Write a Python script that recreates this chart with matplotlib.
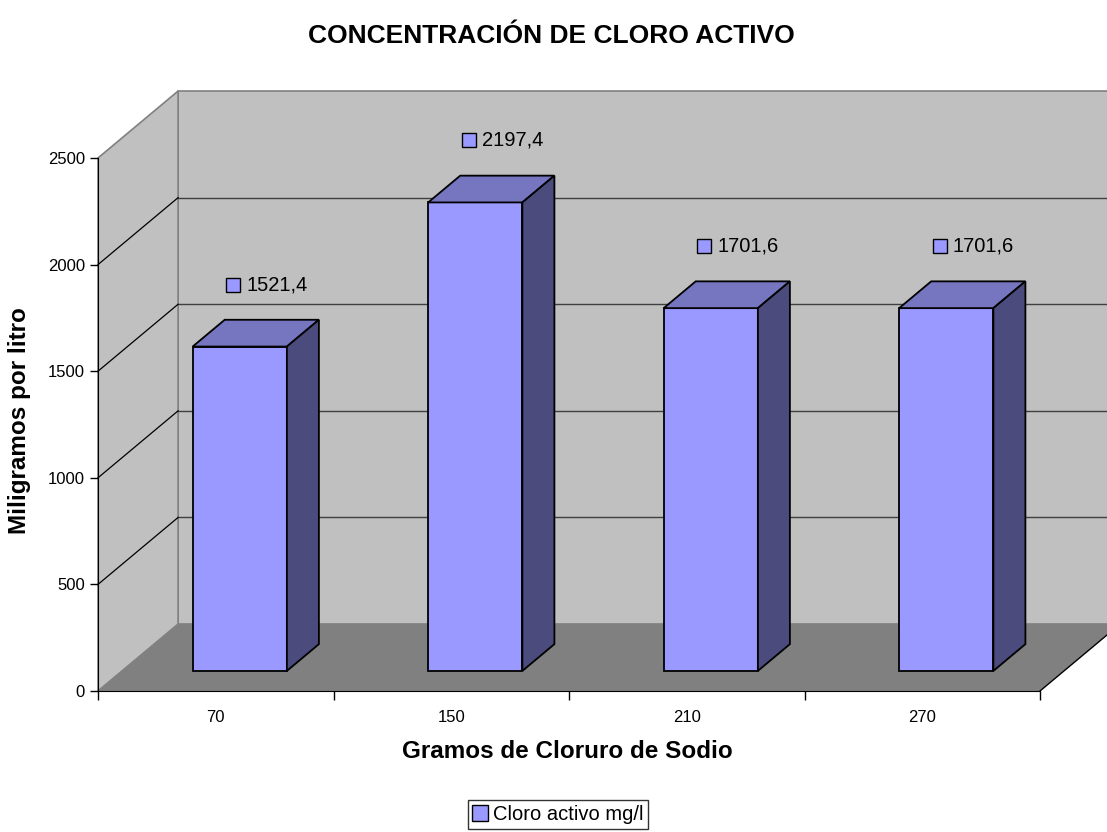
import matplotlib
matplotlib.use('Agg')
from matplotlib import pyplot as plt
from matplotlib.patches import Polygon
from matplotlib.lines import Line2D

plt.rcParams['font.family'] = ['Liberation Sans', 'DejaVu Sans']

categorias = ['70', '150', '210', '270']
cloro = [1521.4, 2197.4, 1701.6, 1701.6]
etiquetas = ['1521,4', '2197,4', '1701,6', '1701,6']
yticks = [0, 500, 1000, 1500, 2000, 2500]
serie = 'Cloro activo mg/l'

# 3D depth offsets in data units
DX = 0.34
DY = 314.0
F0, F1 = 0.3, 0.7   # bar depth range (fraction of full depth)
BW = 0.4            # bar width in category units
YMAX = 2500

C_FRONT = '#9999FF'
C_TOP = '#7575C0'
C_SIDE = '#4B4B7E'


def poly(ax, pts, fc, ec, lw, z):
    ax.add_patch(Polygon(pts, closed=True, facecolor=fc, edgecolor=ec,
                         linewidth=lw, zorder=z, clip_on=False))


fig = plt.figure(figsize=(11.07, 8.32), dpi=100)
ax = fig.add_axes([98 / 1107, 141 / 832, 942 / 1107, 533 / 832])
ax.set_xlim(0, len(categorias))
ax.set_ylim(0, YMAX)
ax.patch.set_visible(False)

n = len(categorias)
# walls and floor
poly(ax, [(DX, DY), (n + DX, DY), (n + DX, DY + YMAX), (DX, DY + YMAX)],
     '#C0C0C0', '#808080', 1.2, 1)
poly(ax, [(0, 0), (DX, DY), (DX, DY + YMAX), (0, YMAX)],
     '#C0C0C0', '#808080', 1.2, 1)
poly(ax, [(0, 0), (n, 0), (n + DX, DY), (DX, DY)],
     '#808080', 'none', 0, 1)
ax.plot([n, n + DX], [0, DY], color='black', lw=1, zorder=2, clip_on=False)

# gridlines
for t in yticks[1:-1]:
    ax.plot([DX, n + DX], [t + DY, t + DY], color='#404040', lw=1,
            zorder=2, clip_on=False)
    ax.plot([0, DX], [t, t + DY], color='black', lw=0.9, zorder=2,
            clip_on=False)

# bars
for i, v in enumerate(cloro):
    xl = i + 0.5 - BW / 2
    xr = i + 0.5 + BW / 2
    b0 = F0 * DY
    b1 = F1 * DY
    poly(ax, [(xl + F0 * DX, b0), (xr + F0 * DX, b0),
              (xr + F0 * DX, b0 + v), (xl + F0 * DX, b0 + v)],
         C_FRONT, 'black', 1.3, 5)
    poly(ax, [(xl + F0 * DX, b0 + v), (xr + F0 * DX, b0 + v),
              (xr + F1 * DX, b1 + v), (xl + F1 * DX, b1 + v)],
         C_TOP, 'black', 1.3, 5)
    poly(ax, [(xr + F0 * DX, b0), (xr + F1 * DX, b1),
              (xr + F1 * DX, b1 + v), (xr + F0 * DX, b0 + v)],
         C_SIDE, 'black', 1.3, 5)
    ly = v + 385
    ax.plot([i + 0.5 + 0.074], [ly], marker='s', markersize=9.5,
            markerfacecolor=C_FRONT, markeredgecolor='black',
            markeredgewidth=1, zorder=6, clip_on=False)
    ax.text(i + 0.5 + 0.129, ly, etiquetas[i], fontsize=14.5, va='center',
            ha='left', zorder=6)

# axes
for s in ['top', 'right']:
    ax.spines[s].set_visible(False)
ax.spines['left'].set_zorder(3)
ax.spines['bottom'].set_zorder(3)
ax.set_yticks(yticks)
ax.set_yticklabels([str(t) for t in yticks])
ax.set_xticks(range(n + 1))
ax.set_xticklabels([''] * (n + 1))
ax.set_xticks([i + 0.5 for i in range(n)], minor=True)
ax.set_xticklabels(categorias, minor=True)
ax.tick_params(axis='y', direction='out', length=6, width=1, pad=3.5,
               labelsize=12)
ax.tick_params(axis='x', which='major', direction='out', length=6.5,
               width=1)
ax.tick_params(axis='x', which='minor', length=0, pad=14, labelsize=12)

fig.text(567 / 1107, 1 - 752 / 832, 'Gramos de Cloruro de Sodio',
         fontsize=17.5, fontweight='bold', ha='center', va='center')
fig.text(20 / 1107, 1 - 421 / 832, 'Miligramos por litro', fontsize=17.5,
         fontweight='bold', ha='center', va='center', rotation=90)
fig.text(551 / 1107, 1 - 36 / 832, 'CONCENTRACIÓN DE CLORO ACTIVO',
         fontsize=19, fontweight='bold', ha='center', va='center')

handle = Line2D([], [], linestyle='none', marker='s', markersize=11,
                markerfacecolor=C_FRONT, markeredgecolor='black')
leg = fig.legend([handle], [serie], loc='upper center',
                 bbox_to_anchor=(558 / 1107, 1 - 800 / 832), fontsize=14.5,
                 frameon=True, fancybox=False, edgecolor='black',
                 handlelength=0.7, handletextpad=0.3, borderpad=0.25,
                 borderaxespad=0)
leg.get_frame().set_linewidth(1)

fig.savefig('out.png', dpi=100)
